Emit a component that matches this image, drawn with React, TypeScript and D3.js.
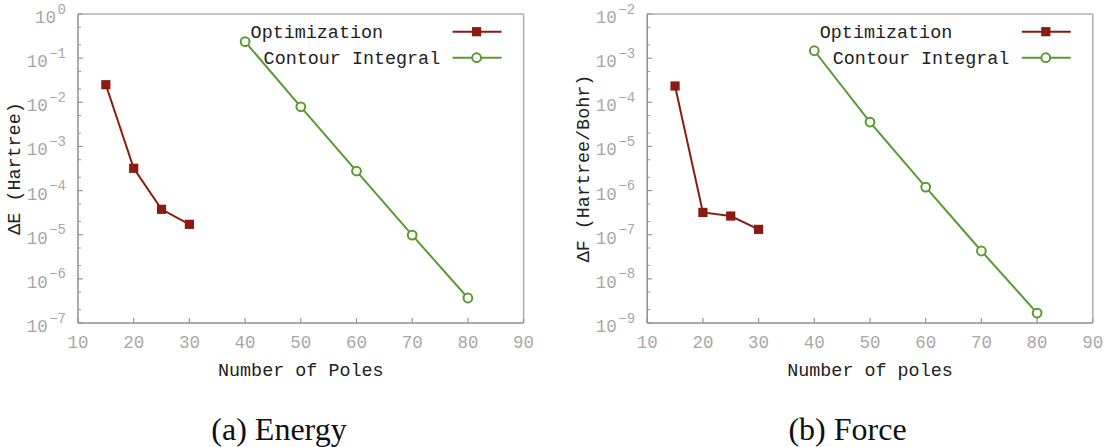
import React from 'react';
import * as d3 from 'd3';

const optPoles = [15, 20, 25, 30];
const ciPoles = [40, 50, 60, 70, 80];
const energyOpt = [2.5e-2, 3.2e-4, 3.76e-5, 1.72e-5];
const energyCI = [0.236, 7.9e-3, 2.77e-4, 9.8e-6, 3.68e-7];
const forceOpt = [2.34e-4, 3.2e-7, 2.65e-7, 1.32e-7];
const forceCI = [1.47e-3, 3.57e-5, 1.2e-6, 4.28e-8, 1.68e-9];
const xTicks = [10, 20, 30, 40, 50, 60, 70, 80, 90];
const energyExps = [0, -1, -2, -3, -4, -5, -6, -7];
const forceExps = [-2, -3, -4, -5, -6, -7, -8, -9];
const seriesNames = ['Optimization', 'Contour Integral'];

const RED = '#8b1a10';
const GREEN = '#5b9a30';
const MONO = "'Liberation Mono', 'DejaVu Sans Mono', monospace";
const TOP = 14;
const W = 445.6;
const H = 309;

type PanelProps = {
  left: number;
  exps: number[];
  opt: number[];
  ci: number[];
  yTitle: string;
  xTitle: string;
  caption: string;
  captionX: number;
};

function Panel({ left, exps, opt, ci, yTitle, xTitle, caption, captionX }: PanelProps) {
  const x = d3.scaleLinear().domain([10, 90]).range([left, left + W]);
  const maxE = d3.max(exps)!;
  const minE = d3.min(exps)!;
  const y = d3.scaleLog().domain([Math.pow(10, minE), Math.pow(10, maxE)]).range([TOP + H, TOP]);
  const line = d3.line<[number, number]>().x(d => x(d[0])).y(d => y(d[1]));
  const optPts: [number, number][] = optPoles.map((p, i) => [p, opt[i]]);
  const ciPts: [number, number][] = ciPoles.map((p, i) => [p, ci[i]]);
  const minors: number[] = [];
  for (let e = minE; e < maxE; e++) {
    minors.push(2 * Math.pow(10, e), 5 * Math.pow(10, e));
  }
  const right = left + W;
  const bottom = TOP + H;
  const legY = [31.7, 57.7];
  return (
    <g>
      <line x1={left} y1={TOP} x2={right} y2={TOP} stroke="#b0b0b0" strokeWidth={1.5} />
      <line x1={right} y1={TOP} x2={right} y2={bottom} stroke="#b0b0b0" strokeWidth={1.5} />
      {exps.map(e => (
        <line key={'yt' + e} x1={left} x2={left + 5} y1={y(Math.pow(10, e))} y2={y(Math.pow(10, e))} stroke="#999" strokeWidth={1.2} />
      ))}
      {minors.map((v, i) => (
        <line key={'ym' + i} x1={left} x2={left + 3} y1={y(v)} y2={y(v)} stroke="#999" strokeWidth={1} />
      ))}
      {xTicks.map(t => (
        <line key={'xt' + t} x1={x(t)} x2={x(t)} y1={bottom} y2={bottom - 5} stroke="#999" strokeWidth={1.2} />
      ))}
      <line x1={left} y1={TOP} x2={left} y2={bottom} stroke="#8f8f8f" strokeWidth={1.5} />
      <line x1={left} y1={bottom} x2={right} y2={bottom} stroke="#8f8f8f" strokeWidth={1.5} />
      {exps.map(e => (
        <text key={'yl' + e} x={left - 12} y={y(Math.pow(10, e)) + 9} textAnchor="end" fontFamily={MONO} fill="#a8a8a8" fontSize={17.5}>
          <tspan>10</tspan>
          <tspan dx={1.5} dy={-9.5} fontSize={14}>{e === 0 ? '0' : '\u2212' + Math.abs(e)}</tspan>
        </text>
      ))}
      {xTicks.map(t => (
        <text key={'xl' + t} x={x(t)} y={348} textAnchor="middle" fontFamily={MONO} fill="#a8a8a8" fontSize={17.5}>{t}</text>
      ))}
      <path d={line(optPts)!} fill="none" stroke={RED} strokeWidth={2} />
      {optPts.map((d, i) => (
        <rect key={'o' + i} x={x(d[0]) - 4.6} y={y(d[1]) - 4.6} width={9.2} height={9.2} fill={RED} />
      ))}
      <path d={line(ciPts)!} fill="none" stroke={GREEN} strokeWidth={2} />
      {ciPts.map((d, i) => (
        <circle key={'c' + i} cx={x(d[0])} cy={y(d[1])} r={4.4} fill="white" stroke={GREEN} strokeWidth={2} />
      ))}
      <text x={right - 273} y={legY[0] + 6} fontFamily={MONO} fontSize={18.4} fill="#222">{seriesNames[0]}</text>
      <line x1={right - 71} x2={right - 22} y1={legY[0]} y2={legY[0]} stroke={RED} strokeWidth={2} />
      <rect x={right - 47 - 4.6} y={legY[0] - 4.6} width={9.2} height={9.2} fill={RED} />
      <text x={right - 260} y={legY[1] + 6} fontFamily={MONO} fontSize={18.4} fill="#222">{seriesNames[1]}</text>
      <line x1={right - 71} x2={right - 22} y1={legY[1]} y2={legY[1]} stroke={GREEN} strokeWidth={2} />
      <circle cx={right - 47} cy={legY[1]} r={4.4} fill="white" stroke={GREEN} strokeWidth={2} />
      <text x={(left + right) / 2} y={376} textAnchor="middle" fontFamily={MONO} fontSize={18.4} fill="#222">{xTitle}</text>
      <text transform={`translate(${left - 58},${TOP + H / 2}) rotate(-90)`} textAnchor="middle" fontFamily={MONO} fontSize={18.4} fill="#222">{yTitle}</text>
      <text x={captionX} y={440} textAnchor="middle" fontFamily="'Liberation Serif', 'DejaVu Serif', serif" fontSize={32} fill="#111">{caption}</text>
    </g>
  );
}

export default function App() {
  return (
    <svg width={1108} height={447} style={{ position: 'absolute', left: 0, top: 0, background: 'white' }}>
      <rect width={1108} height={447} fill="white" />
      <Panel left={78} exps={energyExps} opt={energyOpt} ci={energyCI} yTitle={'\u0394E (Hartree)'} xTitle="Number of Poles" caption="(a) Energy" captionX={279} />
      <Panel left={647.2} exps={forceExps} opt={forceOpt} ci={forceCI} yTitle={'\u0394F (Hartree/Bohr)'} xTitle="Number of poles" caption="(b) Force" captionX={847.5} />
    </svg>
  );
}
